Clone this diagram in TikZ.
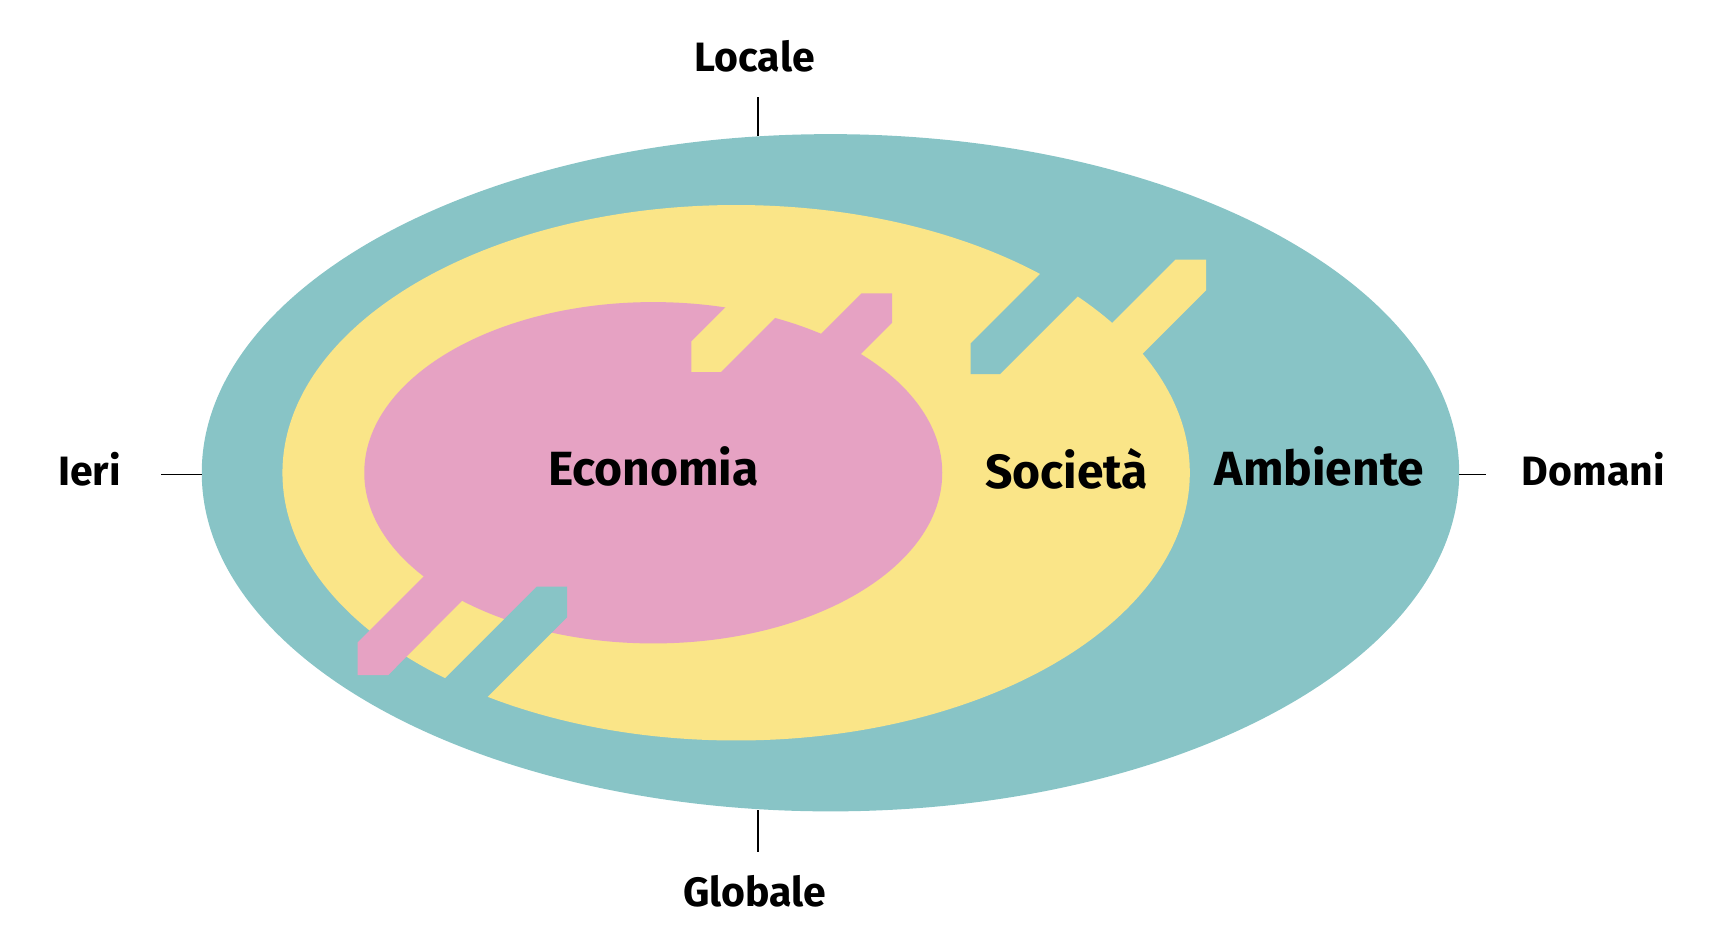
\documentclass[tikz,border=0pt]{standalone}
\usepackage{fontspec}
\setmainfont{Fira Sans}
\definecolor{teal}{RGB}{136,196,198}
\definecolor{sun}{RGB}{250,229,136}
\definecolor{rose}{RGB}{230,162,195}
\begin{document}
\begin{tikzpicture}[x=1.0906pt,y=-1.0906pt,
  lab/.style={font=\fontsize{41}{46}\selectfont\bfseries, anchor=base, inner sep=0pt},
  biglab/.style={lab, font=\fontsize{48}{54}\selectfont\bfseries},
  tick/.style={line width=1.6pt, black}]
\useasboundingbox (0,0) rectangle (1568,864);
% ellipses
\fill[teal] (761.5,433.5) ellipse [x radius=576.5, y radius=310.5];
\fill[sun] (675,433.5) ellipse [x radius=416, y radius=245.5];
\fill[rose] (599,433.5) ellipse [x radius=265, y radius=156.5];
% zigzag A (top middle)
\fill[sun] (634,313) -- (634,341) -- (661,341) -- (762,240) -- (707,240) -- cycle;
\fill[rose] (790,269) -- (818,269) -- (818,296) -- (764,350) -- (709,350) -- cycle;
% zigzag B (top right)
\fill[teal] (890,315) -- (890,343) -- (917,343) -- (1060,200) -- (1005,200) -- cycle;
\fill[sun] (1078,238) -- (1106,238) -- (1106,266) -- (1012,360) -- (956,360) -- cycle;
% zigzag C (bottom left)
\fill[rose] (328,589) -- (328,619) -- (356,619) -- (494,480) -- (437,480) -- cycle;
\fill[teal] (492,538) -- (520,538) -- (520,566) -- (431,655) -- (375,655) -- cycle;
% ticks
\coordinate (t1) at (695,89);  \coordinate (t2) at (695,125);
\coordinate (g1) at (695,743); \coordinate (g2) at (695,781);
\coordinate (i1) at (148,435); \coordinate (i2) at (185,435);
\coordinate (d1) at (1338,435); \coordinate (d2) at (1363,435);
\draw[tick] (t1) -- (t2);
\draw[tick] (g1) -- (g2);
\draw[tick] (i1) -- (i2);
\draw[tick] (d1) -- (d2);
% labels
\node[lab] (locale) at (692,66) {Locale};
\node[lab] (globale) at (692,831) {Globale};
\node[lab] (ieri) at (82,445) {Ieri};
\node[lab] (domani) at (1461,445) {Domani};
\node[biglab] (eco) at (599,445) {Economia};
\node[biglab] (soc) at (978,448) {Società};
\node[biglab] (amb) at (1210,445) {Ambiente};
\end{tikzpicture}
\end{document}
